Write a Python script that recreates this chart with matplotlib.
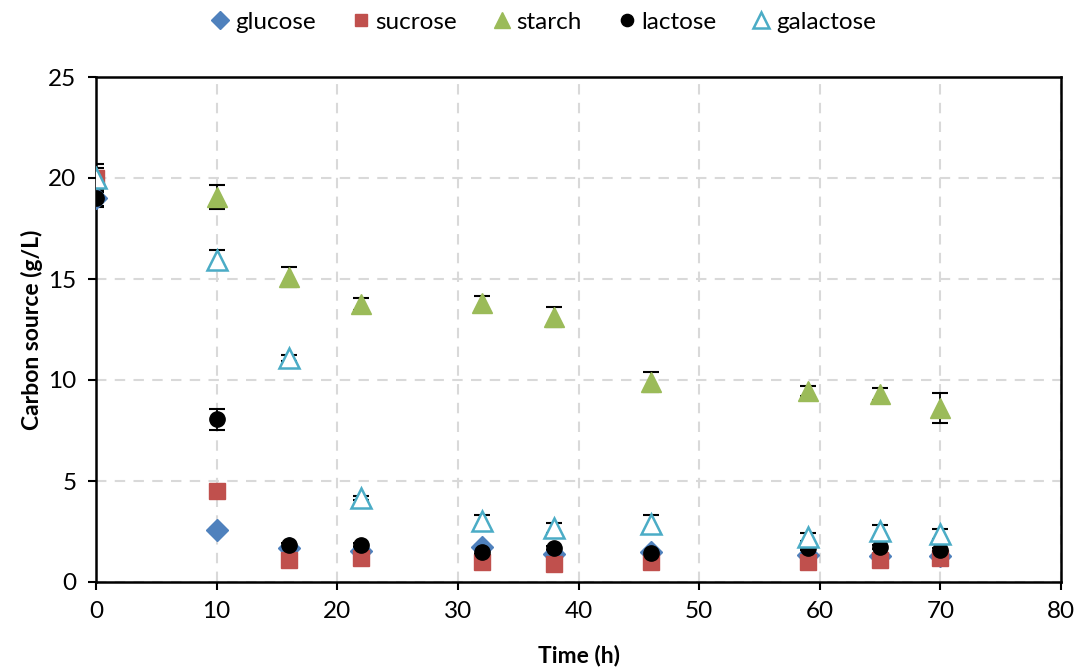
import matplotlib
matplotlib.use("Agg")
import matplotlib.pyplot as plt
import numpy as np

plt.rcParams['font.family'] = ['Lato', 'DejaVu Sans']

time_h = [0, 10, 16, 22, 32, 38, 46, 59, 65, 70]

glucose = [19.0, 2.55, 1.7, 1.55, 1.75, 1.4, 1.5, 1.35, 1.3, 1.3]
glucose_err = [0.4, 0.1, 0.1, 0.1, 0.1, 0.1, 0.1, 0.1, 0.1, 0.1]

sucrose = [20.0, 4.5, 1.1, 1.2, 1.0, 0.9, 1.0, 1.0, 1.1, 1.2]
sucrose_err = [0.3, 0.1, 0.1, 0.1, 0.1, 0.1, 0.1, 0.1, 0.1, 0.1]

starch = [20.0, 19.05, 15.1, 13.75, 13.8, 13.1, 9.9, 9.45, 9.3, 8.6]
starch_err = [0.5, 0.6, 0.5, 0.3, 0.35, 0.5, 0.5, 0.25, 0.3, 0.74]

lactose = [19.0, 8.05, 1.83, 1.85, 1.5, 1.68, 1.45, 1.68, 1.72, 1.6]
lactose_err = [0.45, 0.53, 0.1, 0.1, 0.1, 0.1, 0.1, 0.1, 0.1, 0.1]

galactose = [20.0, 15.95, 11.1, 4.17, 3.0, 2.67, 2.87, 2.24, 2.52, 2.38]
galactose_err = [0.68, 0.5, 0.15, 0.1, 0.3, 0.25, 0.45, 0.2, 0.3, 0.25]

x_ticks = [0, 10, 20, 30, 40, 50, 60, 70, 80]
y_ticks = [0, 5, 10, 15, 20, 25]

series = [
    ("glucose", glucose, glucose_err, dict(marker='D', color='#4F81BD', mfc='#4F81BD', mec='#4F81BD', ms=11)),
    ("sucrose", sucrose, sucrose_err, dict(marker='s', color='#C0504D', mfc='#C0504D', mec='#C0504D', ms=11)),
    ("starch", starch, starch_err, dict(marker='^', color='#9BBB59', mfc='#9BBB59', mec='#9BBB59', ms=14)),
    ("lactose", lactose, lactose_err, dict(marker='o', color='black', mfc='black', mec='black', ms=11)),
    ("galactose", galactose, galactose_err, dict(marker='^', color='#4BACC6', mfc='white', mec='#4BACC6', ms=14, mew=1.8)),
]

fig = plt.figure(figsize=(10.83, 6.71), dpi=100)
ax = fig.add_axes([96/1083, 1 - 582/671, (1061-96)/1083, (582-77)/671])

for i, (name, vals, errs, st) in enumerate(series):
    ax.errorbar(time_h, vals, yerr=errs, fmt='none', ecolor='black', elinewidth=1.3,
                capsize=6, capthick=1.5, zorder=2 + i * 0.01)
for i, (name, vals, errs, st) in enumerate(series):
    ax.plot(time_h, vals, linestyle='none', label=name, zorder=3 + i * 0.01, **st)

ax.set_xlim(0, 80)
ax.set_ylim(0, 25)
ax.set_xticks(x_ticks)
ax.set_yticks(y_ticks)
ax.grid(True, linestyle=(0, (5, 4)), color='#D9D9D9', linewidth=1.5, zorder=0)
ax.set_axisbelow(True)
for sp in ax.spines.values():
    sp.set_linewidth(1.8)
    sp.set_color('black')
ax.tick_params(axis='both', direction='out', length=6, width=1.5, labelsize=17.5, pad=8)
ax.set_xlabel('Time (h)', fontsize=16.5, fontweight='bold', labelpad=16)
ax.set_ylabel('Carbon source (g/L)', fontsize=16.5, fontweight='bold', labelpad=4)

leg = fig.legend(loc='center', bbox_to_anchor=(0.5, 1 - 22/671), ncol=5, frameon=False,
                 fontsize=17.5, handletextpad=0.05, columnspacing=1.3, handlelength=1.1,
                 markerscale=0.8)

fig.savefig('out.png', dpi=100)
